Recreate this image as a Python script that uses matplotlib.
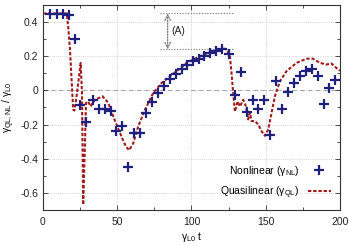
import matplotlib
matplotlib.use("Agg")
import matplotlib.pyplot as plt
from matplotlib.ticker import MultipleLocator

plt.rcParams['font.family'] = ['Liberation Sans', 'DejaVu Sans']
plt.rcParams['mathtext.fontset'] = 'custom'
plt.rcParams['mathtext.rm'] = 'Liberation Sans'
plt.rcParams['mathtext.it'] = 'Liberation Sans'
plt.rcParams['mathtext.default'] = 'regular'

# Nonlinear growth rate (crosses)
t_nl = [4.7, 9.2, 13.7, 17.5, 21.5, 25.3, 29.3, 33.5, 37.7, 41.5, 45.6, 49.1,
        53.4, 57.4, 61.5, 65.3, 69.1, 73.6, 77.2, 81.2, 85.5, 89.3, 93.4, 97.2,
        101.2, 104.9, 108.4, 112.3, 116.3, 120.3, 125.4, 129.1, 133.2, 137.1,
        141.2, 145.0, 149.0, 152.9, 156.9, 160.7, 165.2, 169.0, 173.0, 177.1,
        180.9, 185.0, 189.2, 192.8, 196.6]
g_nl = [0.447, 0.447, 0.447, 0.443, 0.30, -0.088, -0.184, -0.057, -0.112, -0.11,
        -0.122, -0.236, -0.206, -0.45, -0.249, -0.252, -0.134, -0.07, -0.015,
        0.027, 0.065, 0.096, 0.126, 0.151, 0.171, 0.186, 0.20, 0.216, 0.23, 0.242,
        0.21, -0.025, 0.105, -0.126, -0.058, -0.107, -0.058, -0.263, 0.053,
        -0.108, -0.01, 0.043, 0.082, 0.112, 0.122, 0.082, -0.078, 0.014, 0.063]

# Quasilinear growth rate (dashed curve)
t_ql = [0, 16, 17, 18.2, 19.3, 20.4, 21.3, 23.1, 25.4, 26.3, 27.1, 28.0, 29.0,
        30.5, 32.1, 35.0, 40.2, 44.0, 47.4, 51.9, 55.9, 58.1, 60.8, 64.2, 68.7,
        74.3, 79.9, 85.5, 90.0, 96.8, 103.5, 110.2, 117.0, 121.4, 123.7, 125.9,
        127.0, 128.1, 129.3, 131.1, 132.7, 134.9, 136.7, 138.2, 139.4, 140.5,
        142.8, 145.0, 147.3, 149.5, 151.7, 154.0, 156.2, 159.6, 164.0, 170.8,
        177.5, 181.6, 186.5, 191.0, 194.3, 198.8, 200.0]
g_ql = [0.45, 0.45, 0.376, 0.24, 0.063, -0.114, -0.118, -0.006, 0.16, -0.015,
        -0.67, -0.41, -0.074, -0.065, -0.094, -0.055, -0.035, -0.074, -0.153,
        -0.25, -0.33, -0.35, -0.31, -0.21, -0.114, -0.015, 0.043, 0.082, 0.112,
        0.161, 0.19, 0.216, 0.235, 0.245, 0.239, 0.20, 0.102, -0.015, -0.124,
        -0.065, -0.094, -0.055, -0.094, -0.17, -0.13, -0.18, -0.18, -0.20,
        -0.24, -0.266, -0.23, -0.13, -0.035, 0.053, 0.112, 0.161, 0.185, 0.186,
        0.161, 0.151, 0.157, 0.122, 0.115]

# Annotation (A) levels
ann_t = [79, 129]
ann_hi = 0.45
ann_lo = 0.24
ann_arrow_t = 84

fig = plt.figure(figsize=(3.49, 2.45), dpi=100)
ax = fig.add_axes([0.123, 0.143, 0.851, 0.837])

ax.set_xlim(0, 200)
ax.set_ylim(-0.7, 0.5)

ax.xaxis.set_major_locator(MultipleLocator(50))
ax.xaxis.set_minor_locator(MultipleLocator(25))
ax.yaxis.set_major_locator(MultipleLocator(0.2))
ax.yaxis.set_minor_locator(MultipleLocator(0.1))
ax.set_yticks([-0.6, -0.4, -0.2, 0, 0.2, 0.4])
ax.set_yticklabels(['-0.6', '-0.4', '-0.2', '0', '0.2', '0.4'])

ax.grid(True, which='major', color='#c8c8c8', linestyle=(0, (1, 1.5)), linewidth=0.6)
ax.axhline(0, color='#999999', linestyle=(0, (4, 3)), linewidth=0.8, zorder=1)

for s in ax.spines.values():
    s.set_color('#333333')
    s.set_linewidth(0.8)
ax.tick_params(which='both', direction='in', top=True, right=True, colors='#333333',
               labelsize=7.5, labelcolor='#222222')
ax.tick_params(which='major', length=3.5, width=0.6)
ax.tick_params(which='minor', length=2, width=0.6)
ax.tick_params(axis='x', pad=5)

ax.plot(t_ql, g_ql, color='#a01c1c', linestyle=(0, (1.6, 0.9)), linewidth=1.5,
        label=r'Quasilinear ($\gamma_{QL}$)', zorder=3)
ax.plot(t_nl, g_nl, linestyle='none', marker='+', markersize=7, mew=1.6,
        color='#20207e', label=r'Nonlinear ($\gamma_{NL}$)', zorder=4)

# annotation (A)
ax.plot(ann_t, [ann_hi, ann_hi], color='#8a8a8a', linestyle=(0, (1, 1.2)), linewidth=0.9)
ax.plot(ann_t, [ann_lo, ann_lo], color='#8a8a8a', linestyle=(0, (1, 1.2)), linewidth=0.9)
ax.annotate('', xy=(ann_arrow_t, ann_lo), xytext=(ann_arrow_t, ann_hi),
            arrowprops=dict(arrowstyle='<->', color='#777777', linestyle=(0, (1, 1.2)),
                            lw=0.9, shrinkA=0, shrinkB=0))
ax.text(ann_arrow_t + 2.5, (ann_hi + ann_lo) / 2, '(A)', fontsize=7.5, va='center',
        ha='left', color='#222222')

handles, labels = ax.get_legend_handles_labels()
leg = ax.legend(handles[::-1], labels[::-1], loc='lower right', frameon=False,
                markerfirst=False, fontsize=7.5, handlelength=2.2,
                borderaxespad=0.5, labelspacing=0.6)

ax.set_xlabel(r'$\gamma_{L0}$ t', fontsize=7.5, labelpad=2)
ax.set_ylabel(r'$\gamma_{QL,NL}$ / $\gamma_{L0}$', fontsize=7.5, labelpad=2)

fig.savefig('out.png', dpi=100)
